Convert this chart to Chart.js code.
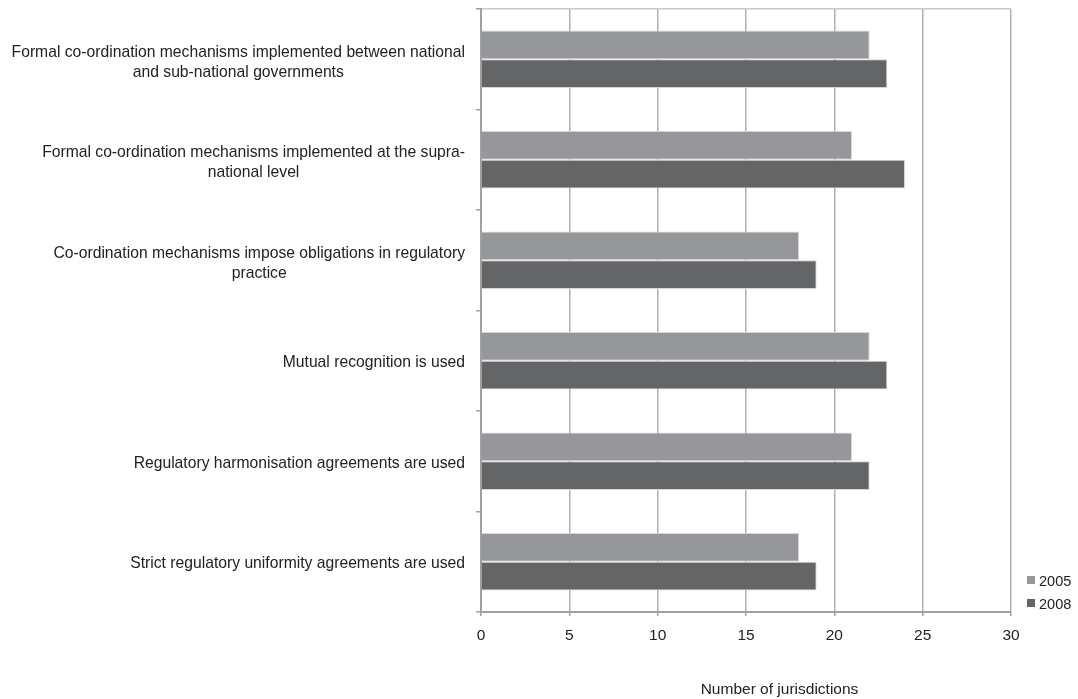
<!DOCTYPE html>
<html>
<head>
<meta charset="utf-8">
<script src="https://cdn.jsdelivr.net/npm/chart.js@4/dist/chart.umd.min.js"></script>
<style>
  html, body { margin: 0; padding: 0; background: #fff; }
  #wrap { width: 1078px; height: 699px; }
</style>
</head>
<body>
<div id="wrap"><canvas id="chart" width="1078" height="699"></canvas></div>
<script>
const categories = [
  ['Formal co-ordination mechanisms implemented between national', 'and sub-national governments'],
  ['Formal co-ordination mechanisms implemented at the supra-', 'national level'],
  ['Co-ordination mechanisms impose obligations in regulatory', 'practice'],
  'Mutual recognition is used',
  'Regulatory harmonisation agreements are used',
  'Strict regulatory uniformity agreements are used',
];
const seriesNames = ['2005', '2008'];
const values2005 = [22, 21, 18, 22, 21, 18];
const values2008 = [23, 24, 19, 23, 22, 19];
const xTicks = [0, 5, 10, 15, 20, 25, 30];
const xTitle = 'Number of jurisdictions';

const FONT_FAMILY = '"Liberation Sans", Arial, sans-serif';
const TEXT = '#222222';
const GRID = '#b0b0b0';
const LINE_H = 20;

// category labels: each block right-aligned to the axis, lines centred inside it
const extrasPlugin = {
  id: 'extras',
  afterDraw(chart) {
    const { ctx, chartArea } = chart;
    const yScale = chart.scales.y;
    ctx.save();
    ctx.fillStyle = TEXT;
    ctx.font = '15.7px ' + FONT_FAMILY;
    ctx.textBaseline = 'middle';
    ctx.textAlign = 'center';
    const right = chartArea.left - 16;
    categories.forEach((cat, i) => {
      const lines = [].concat(cat);
      const w = Math.max(...lines.map((l) => ctx.measureText(l).width));
      const cx = right - w / 2;
      const yc = yScale.getPixelForTick(i) + (lines.length > 1 ? 3 : 2);
      lines.forEach((l, j) => {
        ctx.fillText(l, cx, yc + (j - (lines.length - 1) / 2) * LINE_H);
      });
    });

    // axis title, centred between plot left and canvas right
    ctx.font = '15.5px ' + FONT_FAMILY;
    ctx.fillText(xTitle, (chartArea.left + chart.width) / 2, 690);

    // legend
    ctx.textAlign = 'left';
    ctx.font = '14.5px ' + FONT_FAMILY;
    chart.data.datasets.forEach((ds, i) => {
      const top = 576 + i * 23;
      ctx.fillStyle = ds.backgroundColor;
      ctx.fillRect(1027, top, 8, 8);
      ctx.fillStyle = TEXT;
      ctx.fillText(ds.label, 1039, top + 5.5);
    });
    ctx.restore();
  },
};

const ctx = document.getElementById('chart').getContext('2d');
new Chart(ctx, {
  type: 'bar',
  data: {
    labels: categories,
    datasets: [
      {
        label: seriesNames[0],
        data: values2005,
        backgroundColor: '#96979a',
        borderColor: '#d6d6d6',
        borderWidth: 1,
      },
      {
        label: seriesNames[1],
        data: values2008,
        backgroundColor: '#646567',
        borderColor: '#d6d6d6',
        borderWidth: 1,
      },
    ],
  },
  options: {
    indexAxis: 'y',
    responsive: false,
    animation: false,
    layout: { padding: { top: 9, right: 67, left: 0, bottom: 0 } },
    datasets: {
      bar: { categoryPercentage: 0.571, barPercentage: 1 },
    },
    plugins: {
      legend: { display: false },
      tooltip: { enabled: false },
    },
    scales: {
      x: {
        min: xTicks[0],
        max: xTicks[xTicks.length - 1],
        afterBuildTicks: (scale) => {
          scale.ticks = xTicks.map((v) => ({ value: v }));
        },
        afterFit: (scale) => { scale.height = 87; },
        grid: {
          color: GRID,
          lineWidth: 1.5,
          tickLength: 4,
          tickColor: '#a0a0a0',
        },
        border: { color: '#a0a0a0', width: 2 },
        ticks: {
          color: TEXT,
          font: { size: 15.5, family: FONT_FAMILY },
          padding: 10,
          maxRotation: 0,
        },
      },
      y: {
        afterFit: (scale) => { scale.width = 481; },
        grid: {
          offset: true,
          color: (c) => (c.index === 0 ? '#c8c8c8' : 'rgba(0,0,0,0)'),
          lineWidth: 1.5,
          tickLength: 5,
          tickColor: '#a0a0a0',
        },
        border: { color: '#a0a0a0', width: 2 },
        ticks: { display: false },
      },
    },
  },
  plugins: [extrasPlugin],
});
</script>
</body>
</html>
